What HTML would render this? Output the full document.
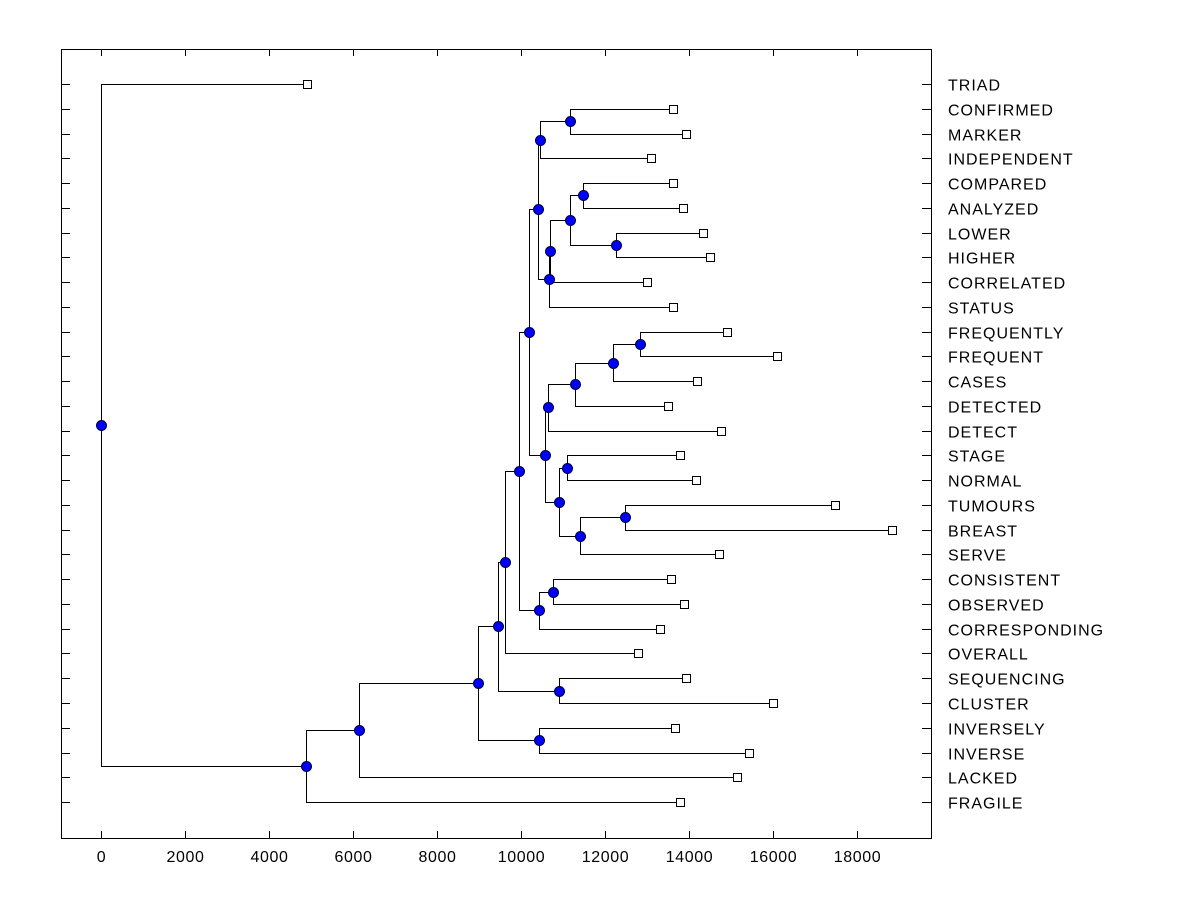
<!DOCTYPE html>
<html><head><meta charset="utf-8"><style>
html,body{margin:0;padding:0;background:#fff}
svg{display:block}
text{font-family:"Liberation Sans",Arial,sans-serif;font-size:16px;fill:#000}
.leaf-text{letter-spacing:1px}
.tick-text{letter-spacing:0.6px}
</style></head><body>
<svg id="chart" width="1200" height="900" xmlns="http://www.w3.org/2000/svg"></svg>
<script>
const leafNames = ["TRIAD","CONFIRMED","MARKER","INDEPENDENT","COMPARED","ANALYZED","LOWER","HIGHER","CORRELATED","STATUS","FREQUENTLY","FREQUENT","CASES","DETECTED","DETECT","STAGE","NORMAL","TUMOURS","BREAST","SERVE","CONSISTENT","OBSERVED","CORRESPONDING","OVERALL","SEQUENCING","CLUSTER","INVERSELY","INVERSE","LACKED","FRAGILE"];
const leafValues = [4905,13619,13929,13095,13619,13857,14333,14500,13000,13619,14905,16095,14190,13500,14762,13786,14167,17476,18833,14714,13571,13881,13310,12786,13929,16000,13667,15429,15143,13786];
const mergeIds = ["A","B","C","D","E","F","G","H","I","J","K","L","M","N","O","P","Q","R","S","T","U","V","W","X","Y","Z","AA","AB","ROOT"];
const mergeLeft = ["CONFIRMED","A","COMPARED","LOWER","C","E","F","B","FREQUENTLY","I","J","K","STAGE","TUMOURS","N","M","L","H","CONSISTENT","S","R","U","SEQUENCING","V","INVERSELY","X","Z","AA","TRIAD"];
const mergeRight = ["MARKER","INDEPENDENT","ANALYZED","HIGHER","D","CORRELATED","STATUS","G","FREQUENT","CASES","DETECTED","DETECT","NORMAL","BREAST","SERVE","O","P","Q","OBSERVED","CORRESPONDING","T","OVERALL","CLUSTER","W","INVERSE","Y","LACKED","FRAGILE","AB"];
const mergeHeights = [11167,10452,11476,12262,11167,10690,10655,10405,12833,12190,11286,10643,11095,12476,11405,10905,10571,10190,10762,10429,9952,9619,10905,9452,10429,8976,6143,4881,0];
const xTicks = [0,2000,4000,6000,8000,10000,12000,14000,16000,18000];

const svg = document.getElementById('chart');
const NS = "http://www.w3.org/2000/svg";
const L=61,R=931,T=49,B=838;
const xs = v => 101 + v*0.042;
const ys = i => 84 + i*24.76;
function mk(tag, attrs, parent){const e=document.createElementNS(NS,tag);for(const k in attrs)e.setAttribute(k,attrs[k]);(parent||svg).appendChild(e);return e;}

const frame = mk('rect',{x:L+.5,y:T+.5,width:R-L,height:B-T,fill:'none',stroke:'#000','stroke-width':1});



const xAxis = mk('g',{});


xTicks.forEach(v=>{
  const x=Math.round(xs(v))+.5;
  mk('line',{x1:x,x2:x,y1:T,y2:T+7,stroke:'#000'},xAxis);
  mk('line',{x1:x,x2:x,y1:B,y2:B-7,stroke:'#000'},xAxis);
  const t=mk('text',{x:x,y:B+24,'text-anchor':'middle','class':'tick-text'},xAxis);
  t.textContent=v;
  
  
});

const pos = {};
const yAxis = mk('g',{});


leafNames.forEach((n,i)=>{
  const y=Math.round(ys(i))+.5;
  pos[n]={x:xs(leafValues[i]),y:ys(i)};
  mk('line',{x1:L,x2:L+9,y1:y,y2:y,stroke:'#000'},yAxis);
  mk('line',{x1:R,x2:R-9,y1:y,y2:y,stroke:'#000'},yAxis);
  const t=mk('text',{x:948,y:y+6,'class':'leaf-text'},yAxis);
  t.textContent=n;
  
  
});

const links = mk('g',{fill:'none',stroke:'#000','stroke-width':1});


mergeIds.forEach((id,i)=>{
  const a=pos[mergeLeft[i]], b=pos[mergeRight[i]];
  const x=xs(mergeHeights[i]);
  pos[id]={x:x,y:(a.y+b.y)/2};
  const xx=Math.round(x)+.5, ay=Math.round(a.y)+.5, by=Math.round(b.y)+.5;
  mk('path',{d:`M${Math.round(a.x)},${ay}H${xx}V${by}H${Math.round(b.x)}`},links);
});

const leaves = mk('g',{});


leafNames.forEach(n=>{
  const p=pos[n];
  const r=mk('rect',{x:Math.round(p.x)-3.5,y:Math.round(p.y)-3.5,width:8,height:8,fill:'#fff',stroke:'#000'},leaves);
  
  
});
const nodes = mk('g',{});


mergeIds.forEach(id=>{
  const p=pos[id];
  const c=mk('circle',{cx:Math.round(p.x)+.5,cy:Math.round(p.y)+.5,r:5,fill:'#0000ff',stroke:'#000033','stroke-width':1},nodes);
  
  
});
</script>
</body></html>
